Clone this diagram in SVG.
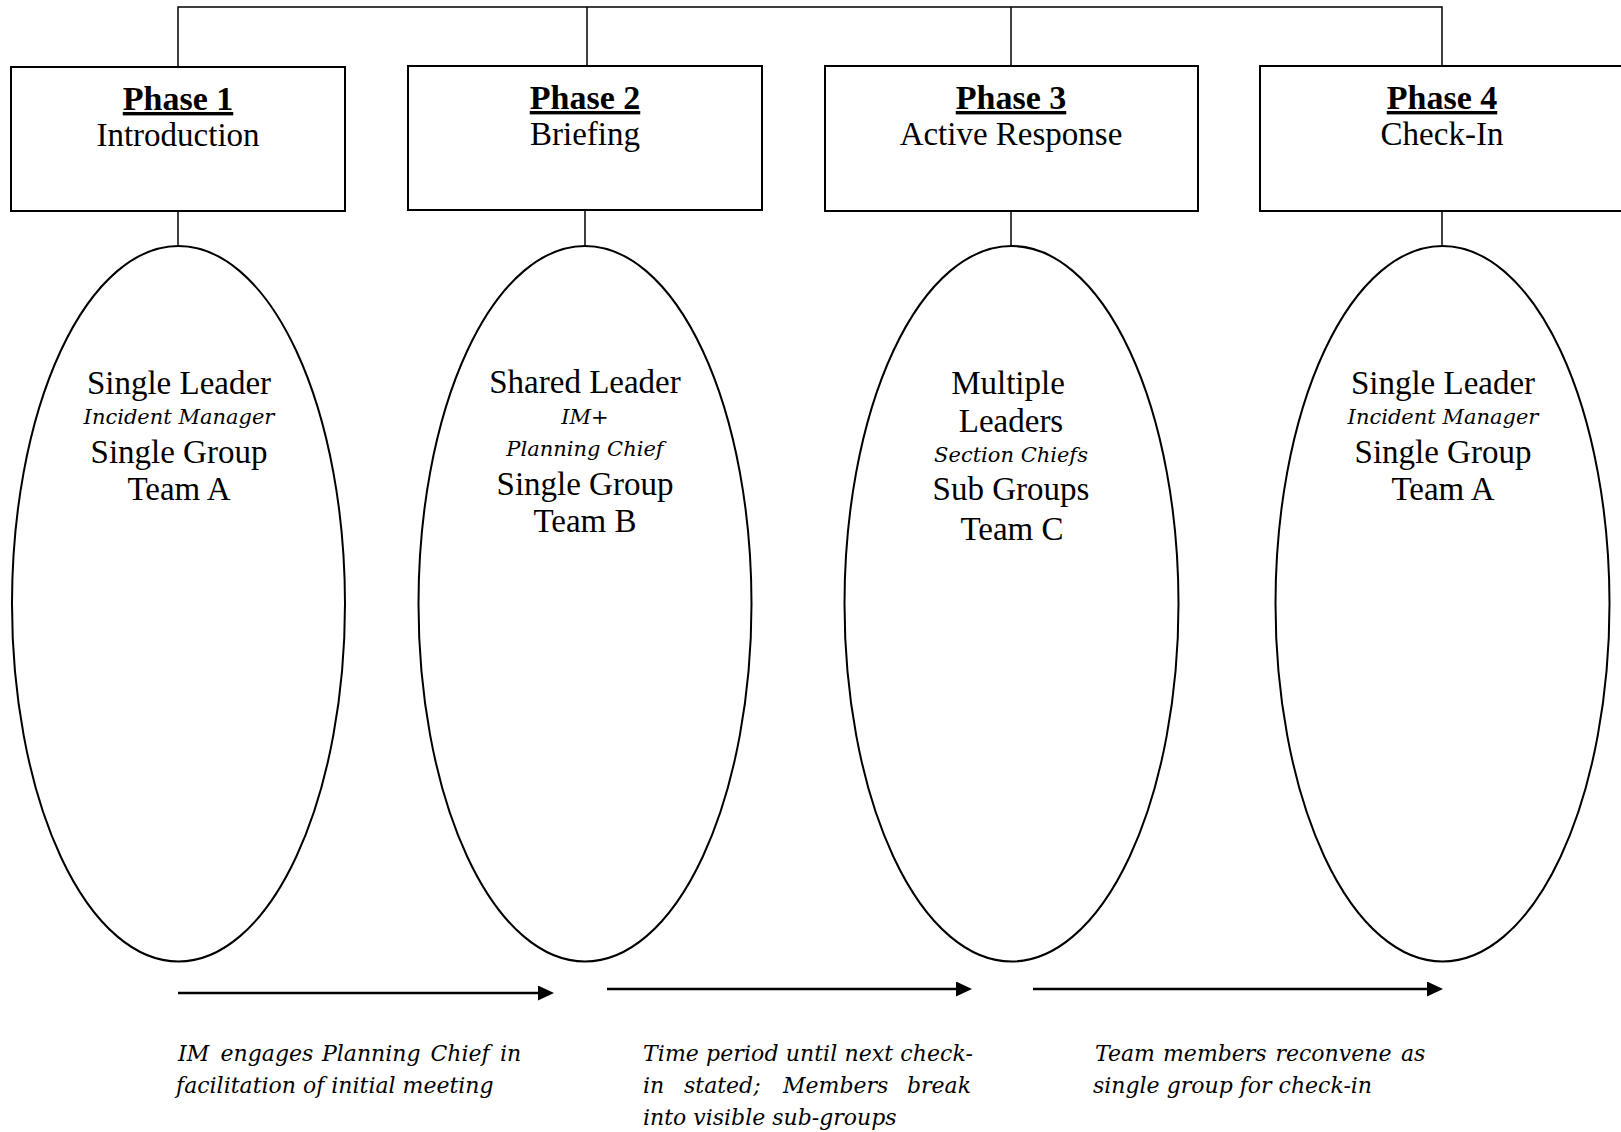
<svg xmlns="http://www.w3.org/2000/svg" width="1621" height="1132" viewBox="0 0 1621 1132">
  <style>
    .box { fill: #fff; stroke: #000; stroke-width: 2; }
    .oval { fill: none; stroke: #000; stroke-width: 2; }
    .link { fill: none; stroke: #000; stroke-width: 1.5; }
    .flow { fill: none; stroke: #000; stroke-width: 2.5; marker-end: url(#head); }
    .title { font-family: "Liberation Serif", serif; font-weight: bold; font-size: 34px; text-anchor: middle; text-decoration: underline; }
    .sub { font-family: "Liberation Serif", serif; font-size: 33px; text-anchor: middle; }
    .role { font-family: "DejaVu Serif", serif; font-style: italic; font-size: 21px; text-anchor: middle; }
    .note { font-family: "DejaVu Serif", serif; font-style: italic; font-size: 22px; }
  </style>
  <defs>
    <marker id="head" markerUnits="userSpaceOnUse" markerWidth="17" markerHeight="16" refX="8" refY="7.5" orient="auto">
      <path d="M0,0 L16,7.5 L0,15 Z" fill="#000"/>
    </marker>
  </defs>
  <rect width="1621" height="1132" fill="#fff"/>

  <!-- connectors: top bus, box-to-oval stems, phase arrows -->
  <g id="connectors">
    <path class="link" d="M178,67 V7 H1442 V66"/>
    <path class="link" d="M587,7 V66"/>
    <path class="link" d="M1011,7 V66"/>
    <path class="link" d="M178,211 V246"/>
    <path class="link" d="M585,210 V246"/>
    <path class="link" d="M1011,211 V246"/>
    <path class="link" d="M1442,211 V246"/>
    <path class="flow" d="M178,993 H546"/>
    <path class="flow" d="M607,989 H964"/>
    <path class="flow" d="M1033,989 H1435"/>
  </g>

  <g id="phase1">
    <rect class="box" x="11" y="67" width="334" height="144"/>
    <text class="title" x="178" y="110">Phase 1</text>
    <text class="sub" x="178" y="146">Introduction</text>
  </g>
  <g id="phase2">
    <rect class="box" x="408" y="66" width="354" height="144"/>
    <text class="title" x="585" y="109">Phase 2</text>
    <text class="sub" x="585" y="145">Briefing</text>
  </g>
  <g id="phase3">
    <rect class="box" x="825" y="66" width="373" height="145"/>
    <text class="title" x="1011" y="109">Phase 3</text>
    <text class="sub" x="1011" y="145">Active Response</text>
  </g>
  <g id="phase4">
    <rect class="box" x="1260" y="66" width="366" height="145"/>
    <text class="title" x="1442" y="109">Phase 4</text>
    <text class="sub" x="1442" y="145">Check-In</text>
  </g>

  <g id="group1">
    <ellipse class="oval" cx="178.5" cy="603.75" rx="166.5" ry="357.75"/>
    <text class="sub" x="179" y="394">Single Leader</text>
    <text class="role" x="179" y="424">Incident Manager</text>
    <text class="sub" x="179" y="463">Single Group</text>
    <text class="sub" x="179" y="500">Team A</text>
  </g>
  <g id="group2">
    <ellipse class="oval" cx="585" cy="603.75" rx="166.5" ry="357.75"/>
    <text class="sub" x="585" y="393">Shared Leader</text>
    <text class="role" x="585" y="424">IM+</text>
    <text class="role" x="585" y="456">Planning Chief</text>
    <text class="sub" x="585" y="495">Single Group</text>
    <text class="sub" x="585" y="532">Team B</text>
  </g>
  <g id="group3">
    <ellipse class="oval" cx="1011.5" cy="603.75" rx="167" ry="357.75"/>
    <text class="sub" x="1008" y="394">Multiple</text>
    <text class="sub" x="1011" y="432">Leaders</text>
    <text class="role" x="1011" y="462">Section Chiefs</text>
    <text class="sub" x="1011" y="500">Sub Groups</text>
    <text class="sub" x="1012" y="540">Team C</text>
  </g>
  <g id="group4">
    <ellipse class="oval" cx="1442.5" cy="603.75" rx="167" ry="357.75"/>
    <text class="sub" x="1443" y="394">Single Leader</text>
    <text class="role" x="1443" y="424">Incident Manager</text>
    <text class="sub" x="1443" y="463">Single Group</text>
    <text class="sub" x="1443" y="500">Team A</text>
  </g>

  <g id="note1">
    <text class="note" y="1061"><tspan x="178">IM</tspan><tspan x="220.5">engages</tspan><tspan x="322">Planning</tspan><tspan x="430.5">Chief</tspan><tspan x="500">in</tspan></text>
    <text class="note" x="176" y="1093">facilitation of initial meeting</text>
  </g>
  <g id="note2">
    <text class="note" x="643" y="1061" textLength="330" lengthAdjust="spacing">Time period until next check-</text>
    <text class="note" y="1093"><tspan x="643">in</tspan><tspan x="684">stated;</tspan><tspan x="783">Members</tspan><tspan x="907">break</tspan></text>
    <text class="note" x="643" y="1125">into visible sub-groups</text>
  </g>
  <g id="note3">
    <text class="note" y="1061"><tspan x="1095">Team</tspan><tspan x="1163">members</tspan><tspan x="1275.5">reconvene</tspan><tspan x="1401">as</tspan></text>
    <text class="note" x="1093" y="1093">single group for check-in</text>
  </g>
</svg>
